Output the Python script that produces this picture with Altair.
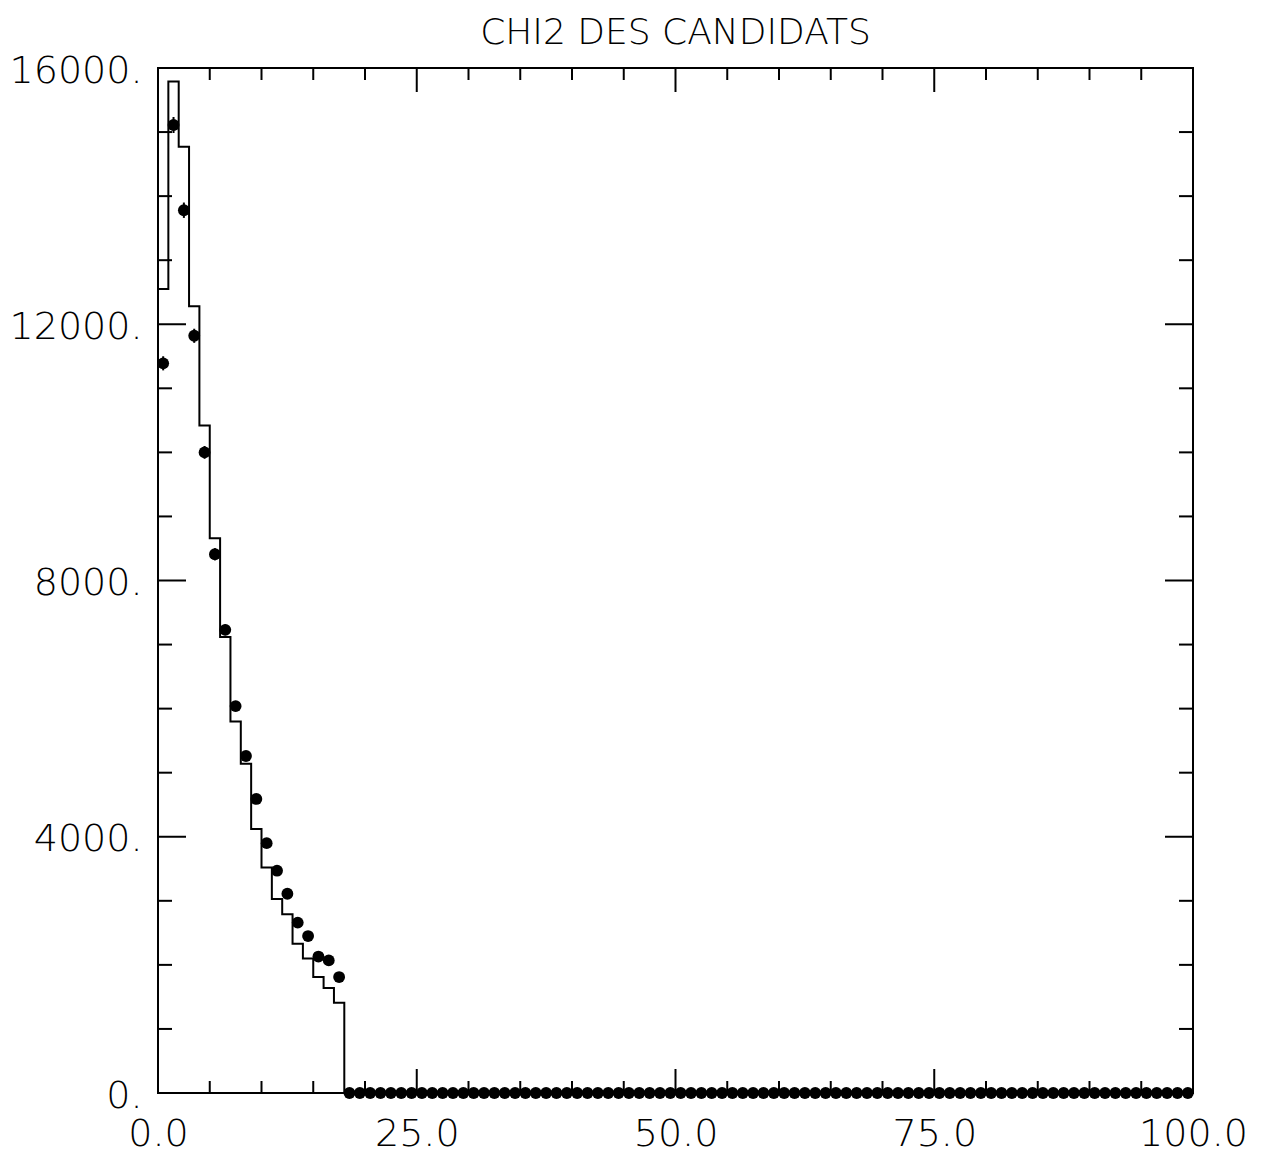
import altair as alt
import pandas as pd

# ---- data ----
bin_lo = list(range(0, 100))  # bins of width 1 from 0 to 100
hist_vals = [12550, 15790, 14770, 12280, 10420, 8660, 7120, 5800, 5140, 4120,
             3520, 3030, 2790, 2330, 2100, 1810, 1640, 1410] + [0] * 82
dot_vals = [11390, 15110, 13780, 11820, 10000, 8410, 7230, 6040, 5260, 4590,
            3900, 3470, 3110, 2660, 2450, 2130, 2070, 1810] + [0] * 82
dot_err = [110, 125, 120, 110, 100, 95, 85, 80, 75, 70,
           65, 60, 55, 52, 50, 46, 45, 43] + [0] * 82

y_major = [4000, 8000, 12000]
y_minor = [1000, 2000, 3000, 5000, 6000, 7000, 9000, 10000, 11000, 13000, 14000, 15000]
x_major = [25, 50, 75]
x_minor = [5, 10, 15, 20, 30, 35, 40, 45, 55, 60, 65, 70, 80, 85, 90, 95]
y_labels = [0, 4000, 8000, 12000, 16000]
x_labels = [0, 25, 50, 75, 100]

W, H = 1035, 1025
FONT = "DejaVu Sans"

# ---- tables ----
step_df = pd.DataFrame({"edge": bin_lo + [100], "h": hist_vals + [0]})
pts_df = pd.DataFrame({"c": [b + 0.5 for b in bin_lo], "v": dot_vals,
                       "lo": [v - e for v, e in zip(dot_vals, dot_err)],
                       "hi": [v + e for v, e in zip(dot_vals, dot_err)]})
err_df = pts_df[pts_df["v"] > 0]

xs = alt.Scale(domain=[0, 100], nice=False, zero=False)
ys = alt.Scale(domain=[0, 16000], nice=False)

XAX = alt.Axis(values=x_labels, format=".1f", ticks=False, domain=False,
               grid=False, labelFlush=False, labelOverlap=False,
               labelFont=FONT, labelFontSize=38, labelFontWeight=200,
               labelColor="black", labelPadding=22, title=None)
YAX = alt.Axis(values=y_labels, labelExpr="datum.value + '.'", ticks=False,
               domain=False, grid=False, labelOverlap=False, labelFlush=False,
               labelFont=FONT, labelFontSize=38, labelFontWeight=200,
               labelColor="black", labelPadding=16, labelOffset=3, title=None)

hist = alt.Chart(step_df).mark_line(
    interpolate="step-after", color="black", strokeWidth=2
).encode(
    x=alt.X("edge:Q", scale=xs, axis=XAX),
    y=alt.Y("h:Q", scale=ys, axis=YAX),
)

errs = alt.Chart(err_df).mark_rule(color="black", strokeWidth=2).encode(
    x=alt.X("c:Q", scale=xs, axis=XAX),
    y=alt.Y("lo:Q", scale=ys, axis=YAX),
    y2="hi:Q",
)

dots = alt.Chart(pts_df).mark_point(
    filled=True, color="black", opacity=1, size=140, shape="circle"
).encode(
    x=alt.X("c:Q", scale=xs, axis=XAX),
    y=alt.Y("v:Q", scale=ys, axis=YAX),
)


def ytick(vals, length, side):
    df = pd.DataFrame({"t": vals})
    if side == "left":
        xe = dict(x=alt.value(0), x2=alt.value(length))
    else:
        xe = dict(x=alt.value(W), x2=alt.value(W - length))
    return alt.Chart(df).mark_rule(color="black", strokeWidth=2).encode(
        y=alt.Y("t:Q", scale=ys, axis=YAX), **xe)


def xtick(vals, length, side):
    df = pd.DataFrame({"t": vals})
    if side == "bottom":
        ye = dict(y=alt.value(H), y2=alt.value(H - length))
    else:
        ye = dict(y=alt.value(0), y2=alt.value(length))
    return alt.Chart(df).mark_rule(color="black", strokeWidth=2).encode(
        x=alt.X("t:Q", scale=xs, axis=XAX), **ye)


ticks = [
    ytick(y_major, 28, "left"), ytick(y_minor, 14, "left"),
    ytick(y_major, 28, "right"), ytick(y_minor, 14, "right"),
    xtick(x_major, 24, "bottom"), xtick(x_minor, 12, "bottom"),
    xtick(x_major, 24, "top"), xtick(x_minor, 12, "top"),
]

chart = alt.layer(hist, errs, dots, *ticks).properties(
    width=W, height=H,
    title=alt.TitleParams("CHI2 DES CANDIDATS", font=FONT, fontSize=36,
                          fontWeight=200, color="black", anchor="middle", offset=0),
    autosize=alt.AutoSizeParams(type="none"),
    padding={"left": 158, "top": 68, "right": 70, "bottom": 63},
).configure(
    background="white",
    view=alt.ViewConfig(stroke="black", strokeWidth=2),
)

chart.save("out.html", embed_options={"renderer": "svg", "actions": False})
